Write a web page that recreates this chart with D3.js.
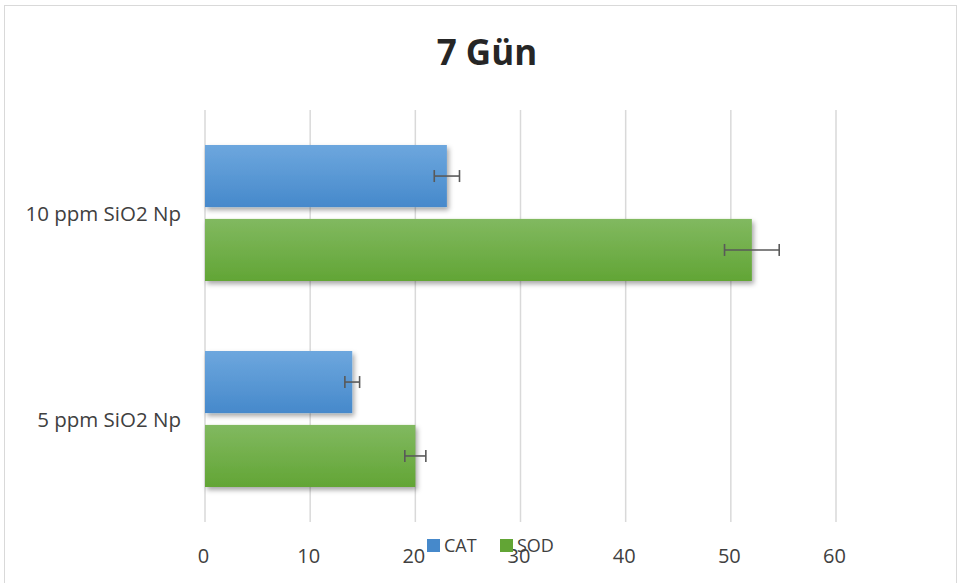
<!DOCTYPE html>
<html>
<head>
<meta charset="utf-8">
<script src="https://cdn.jsdelivr.net/npm/d3@7"></script>
<style>
  body { margin: 0; background: #fff; }
  svg { display: block; font-family: "Open Sans", "Liberation Sans", sans-serif; }
</style>
</head>
<body>
<svg id="svg"></svg>
<script>
var width = 960;
var height = 583;

// data
var categories = ["10 ppm SiO2 Np", "5 ppm SiO2 Np"];
var seriesNames = ["CAT", "SOD"];
var catValues = [23, 14];
var catErrors = [1.2, 0.7];
var sodValues = [52, 20];
var sodErrors = [2.6, 1.0];
var xTicks = [0, 10, 20, 30, 40, 50, 60];

var colors = {
    CAT: ["#6da7de", "#4689cb"],
    SOD: ["#81b960", "#62a535"]
};

var rows = categories.map(function(c, i){
    return {
        cat: c,
        bars: [
            {name: "CAT", value: catValues[i], err: catErrors[i]},
            {name: "SOD", value: sodValues[i], err: sodErrors[i]}
        ]
    };
});

var svg = d3.select("#svg").attr("width", width).attr("height", height);

// gradients + shadow
var defs = svg.append("defs");
seriesNames.forEach(function(n){
    var g = defs.append("linearGradient").attr("id", "grad" + n)
        .attr("x1", 0).attr("y1", 0).attr("x2", 0).attr("y2", 1);
    g.append("stop").attr("offset", "0%").attr("stop-color", colors[n][0]);
    g.append("stop").attr("offset", "100%").attr("stop-color", colors[n][1]);
});
var f = defs.append("filter").attr("id", "shadow")
    .attr("x", "-5%").attr("y", "-20%").attr("width", "115%").attr("height", "150%");
f.append("feDropShadow").attr("dx", 2).attr("dy", 3).attr("stdDeviation", 2.5)
    .attr("flood-color", "#000").attr("flood-opacity", 0.35);

// chart border
svg.append("rect")
    .attr("x", 4.5).attr("y", 5.5)
    .attr("width", 952).attr("height", 600)
    .attr("fill", "#fff")
    .attr("stroke", "#d9d9d9").attr("stroke-width", 1);

var plot = {left: 205, right: 836, top: 110, bottom: 522};

var x = d3.scaleLinear().domain([0, 60]).range([plot.left, plot.right]);
var y0 = d3.scaleBand().domain(categories).range([plot.top, plot.bottom]).paddingInner(0).paddingOuter(0);
var y1 = d3.scaleBand().domain(seriesNames).range([35, y0.bandwidth() - 35]).paddingInner(0.16);

// gridlines
svg.append("g")
    .selectAll("line")
    .data(xTicks)
    .join("line")
    .attr("x1", function(d){ return x(d); })
    .attr("x2", function(d){ return x(d); })
    .attr("y1", plot.top)
    .attr("y2", plot.bottom)
    .attr("stroke", "#d9d9d9")
    .attr("stroke-width", 1.5);

// x axis labels
var xAxis = d3.axisBottom(x).tickValues(xTicks).tickSize(0).tickPadding(0);
var gx = svg.append("g")
    .attr("transform", "translate(-2," + 563 + ")")
    .call(xAxis);
gx.select(".domain").remove();
gx.selectAll("text")
    .attr("dy", 0)
    .attr("y", 0)
    .attr("fill", "#404040")
    .style("font-size", "20px")
    .style("font-family", "'Open Sans', sans-serif");

// category labels
var yAxis = d3.axisLeft(y0).tickSize(0).tickPadding(0);
var gy = svg.append("g")
    .attr("transform", "translate(181,0)")
    .call(yAxis);
gy.select(".domain").remove();
gy.selectAll("text")
    .attr("fill", "#404040")
    .attr("dy", "0.35em")
    .style("font-size", "20.5px")
    .style("font-family", "'Open Sans', sans-serif");
gy.selectAll(".tick").attr("transform", function(d){
    return "translate(0," + (y0(d) + y0.bandwidth() / 2 + 1) + ")";
});

// bars
var groups = svg.append("g").selectAll("g")
    .data(rows)
    .join("g")
    .attr("transform", function(d){ return "translate(0," + y0(d.cat) + ")"; });

groups.selectAll("rect")
    .data(function(d){ return d.bars; })
    .join("rect")
    .attr("x", x(0))
    .attr("y", function(d){ return y1(d.name); })
    .attr("width", function(d){ return x(d.value) - x(0); })
    .attr("height", y1.bandwidth())
    .attr("fill", function(d){ return "url(#grad" + d.name + ")"; })
    .attr("filter", "url(#shadow)");

// error bars
var eb = groups.selectAll("g.err")
    .data(function(d){ return d.bars; })
    .join("g")
    .attr("class", "err")
    .attr("stroke", "#595959")
    .attr("stroke-width", 1.6);
eb.append("line")
    .attr("x1", function(d){ return x(d.value - d.err); })
    .attr("x2", function(d){ return x(d.value + d.err); })
    .attr("y1", function(d){ return y1(d.name) + y1.bandwidth() / 2; })
    .attr("y2", function(d){ return y1(d.name) + y1.bandwidth() / 2; });
[-1, 1].forEach(function(s){
    eb.append("line")
        .attr("x1", function(d){ return x(d.value + s * d.err); })
        .attr("x2", function(d){ return x(d.value + s * d.err); })
        .attr("y1", function(d){ return y1(d.name) + y1.bandwidth() / 2 - 6; })
        .attr("y2", function(d){ return y1(d.name) + y1.bandwidth() / 2 + 6; });
});

// title
svg.append("text")
    .attr("x", 487).attr("y", 65)
    .attr("text-anchor", "middle")
    .attr("fill", "#262626")
    .style("font-size", "35px")
    .style("font-weight", "bold")
    .style("font-family", "'Open Sans', sans-serif")
    .text("7 Gün");

// legend (overlapping the axis, as in the original)
var legend = svg.append("g").selectAll("g")
    .data(seriesNames)
    .join("g")
    .attr("transform", function(d, i){ return "translate(" + (427 + i * 73) + ",539)"; });
legend.append("rect")
    .attr("width", 13).attr("height", 13)
    .attr("fill", function(d){ return colors[d][1]; });
legend.append("text")
    .attr("x", 17).attr("y", 13)
    .attr("fill", "#404040")
    .style("font-size", "18px")
    .text(function(d){ return d; });
</script>
</body>
</html>
